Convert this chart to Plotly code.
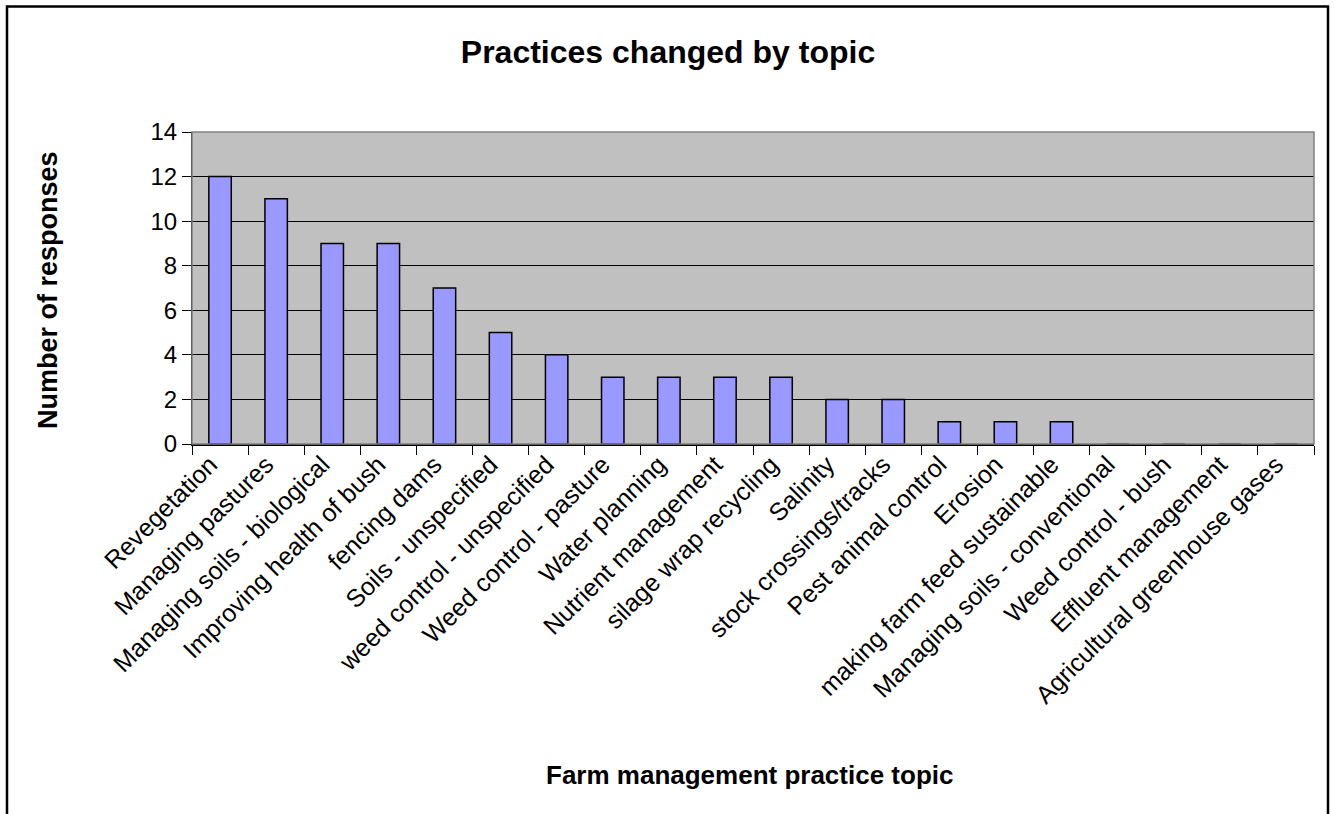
import plotly.graph_objects as go

topics = [
    "Revegetation", "Managing pastures", "Managing soils - biological",
    "Improving health of bush", "fencing dams", "Soils - unspecified",
    "weed control - unspecified", "Weed control - pasture", "Water planning",
    "Nutrient management", "silage wrap recycling", "Salinity",
    "stock crossings/tracks", "Pest animal control", "Erosion",
    "making farm feed sustainable", "Managing soils - conventional",
    "Weed control - bush", "Effluent management", "Agricultural greenhouse gases",
]
responses = [12, 11, 9, 9, 7, 5, 4, 3, 3, 3, 3, 2, 2, 1, 1, 1, 0, 0, 0, 0]
y_ticks = [0, 2, 4, 6, 8, 10, 12, 14]

FONT = "Liberation Sans, Arial, sans-serif"

fig = go.Figure(
    go.Bar(
        x=list(range(len(topics))),
        y=responses,
        width=0.4,
        marker=dict(color="#9999FF", line=dict(color="black", width=1.5)),
    )
)

W, H = 1334, 814
ml, mr, mt, mb = 192, 20, 132, 370
pw, ph = W - ml - mr, H - mt - mb

def px_x(p):
    return (p - ml) / pw

def px_y(p):
    return (H - mb - p) / ph

fig.update_layout(
    width=W, height=H,
    margin=dict(l=ml, r=mr, t=mt, b=mb, pad=0),
    paper_bgcolor="white",
    plot_bgcolor="#C0C0C0",
    showlegend=False,
    font=dict(family=FONT, color="black"),
    title=dict(
        text="<b>Practices changed by topic</b>",
        font=dict(size=32, family=FONT, color="black"),
        x=668 / W, xanchor="center",
        y=1 - 52 / H, yanchor="middle",
    ),
    xaxis=dict(
        range=[-0.5, len(topics) - 0.5],
        tickmode="array",
        tickvals=[i - 0.5 for i in range(len(topics) + 1)],
        ticktext=[""] * (len(topics) + 1),
        ticks="outside", ticklen=9, tickcolor="black", tickwidth=1,
        showline=True, linecolor="black", linewidth=1.5,
        showgrid=False, zeroline=False,
    ),
    xaxis2=dict(
        overlaying="x", matches="x",
        tickmode="array",
        tickvals=list(range(len(topics))),
        ticktext=topics,
        tickangle=-45,
        ticklabelshift=-10,
        tickfont=dict(size=25, family=FONT, color="black"),
        showgrid=False, zeroline=False, showline=False, ticks="",
        side="bottom", anchor="y",
    ),
    yaxis=dict(
        range=[0, 14],
        tickmode="array", tickvals=y_ticks,
        tickfont=dict(size=24, family=FONT, color="black"),
        ticks="outside", ticklen=9, tickcolor="black", tickwidth=1,
        showline=True, linecolor="black", linewidth=1,
        showgrid=True, gridcolor="black", gridwidth=1,
        zeroline=False,
    ),
)

# invisible trace on the label axis so its category labels render
fig.add_trace(go.Scatter(x=list(range(len(topics))), y=[0] * len(topics), xaxis="x2",
                         mode="markers", marker=dict(opacity=0), hoverinfo="skip"))

fig.add_annotation(
    text="<b>Farm management practice topic</b>",
    xref="paper", yref="paper",
    x=px_x(749), y=px_y(775),
    xanchor="center", yanchor="middle", showarrow=False,
    font=dict(size=26, family=FONT, color="black"),
)
fig.add_annotation(
    text="<b>Number of responses</b>",
    xref="paper", yref="paper", textangle=-90,
    x=px_x(48), y=px_y(290),
    xanchor="center", yanchor="middle", showarrow=False,
    font=dict(size=27, family=FONT, color="black"),
)

# plot-area frame and outer chart border
fig.add_shape(type="rect", xref="paper", yref="paper", x0=0, x1=1, y0=0, y1=1,
              line=dict(color="#808080", width=1.5), layer="above")
fig.add_shape(type="rect", xref="paper", yref="paper",
              x0=px_x(7), x1=px_x(1328), y0=px_y(830), y1=px_y(6.5),
              line=dict(color="black", width=2.5))

fig.write_html("out.html")
